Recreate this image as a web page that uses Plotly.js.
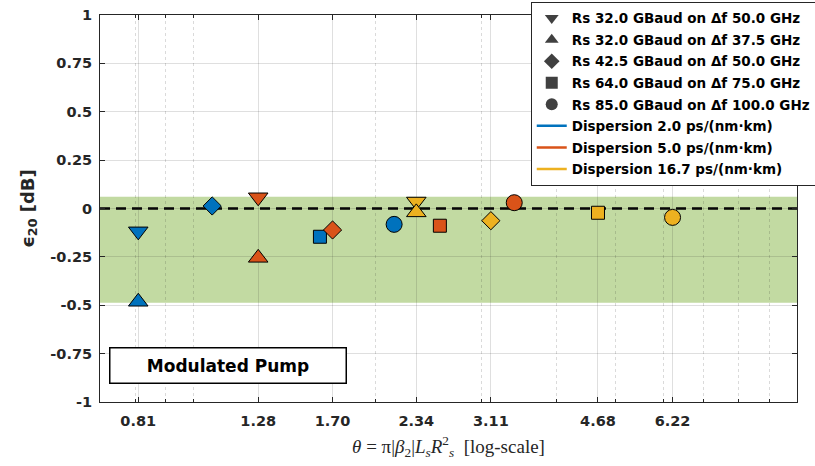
<!DOCTYPE html>
<html>
<head>
<meta charset="utf-8">
<script src="https://cdn.plot.ly/plotly-3.0.1.min.js"></script>
<style>html,body{margin:0;padding:0;background:#fff;}#chart{width:815px;height:466px;}</style>
</head>
<body>
<div id="chart"></div>
<script>
// Marker order in each series: triangle-down, triangle-up, diamond, square, circle
const symbols = ['triangle-down', 'triangle-up', 'diamond', 'square', 'circle'];
const markerSizes = [17, 17, 14, 13, 16];
const symbolLabels = [
  'Rs 32.0 GBaud on Δf 50.0 GHz',
  'Rs 32.0 GBaud on Δf 37.5 GHz',
  'Rs 42.5 GBaud on Δf 50.0 GHz',
  'Rs 64.0 GBaud on Δf 75.0 GHz',
  'Rs 85.0 GBaud on Δf 100.0 GHz'
];
const dispersionLabels = ['Dispersion 2.0 ps/(nm·km)', 'Dispersion 5.0 ps/(nm·km)', 'Dispersion 16.7 ps/(nm·km)'];
const dispersionColors = ['#0072BD', '#D95319', '#EDB120'];

const disp2_theta = [0.81, 0.81, 1.074, 1.62, 2.15];
const disp2_eps   = [-0.118, -0.482, 0.013, -0.146, -0.082];
const disp5_theta = [1.28, 1.28, 1.70, 2.56, 3.40];
const disp5_eps   = [0.058, -0.255, -0.111, -0.089, 0.030];
const disp16_theta = [2.34, 2.34, 3.11, 4.68, 6.22];
const disp16_eps   = [0.036, -0.020, -0.063, -0.022, -0.046];

const xTickVals = [0.81, 1.28, 1.70, 2.34, 3.11, 4.68, 6.22];
const xTickText = ['0.81', '1.28', '1.70', '2.34', '3.11', '4.68', '6.22'];
const yTickVals = [-1, -0.75, -0.5, -0.25, 0, 0.25, 0.5, 0.75, 1];
const yTickText = ['-1', '-0.75', '-0.5', '-0.25', '0', '0.25', '0.5', '0.75', '1'];

const bandLow = -0.487, bandHigh = 0.061;
const xRange = [0.7, 10];

const FONT = '"DejaVu Sans", "Open Sans", sans-serif';
const axisColor = '#262626';
const bold = s => '<b>' + s + '</b>';

const series = [
  {x: disp2_theta, y: disp2_eps},
  {x: disp5_theta, y: disp5_eps},
  {x: disp16_theta, y: disp16_eps}
];

const traces = [];
// legend-only marker entries
symbolLabels.forEach((lab, i) => {
  traces.push({
    x: [null], y: [null], type: 'scatter', mode: 'markers', name: bold(lab),
    legendgroup: 'g' + i,
    marker: {symbol: symbols[i], size: 12, color: '#404040', opacity: 1},
    showlegend: true
  });
});
// legend-only line entries
dispersionLabels.forEach((lab, i) => {
  traces.push({
    x: [null], y: [null], type: 'scatter', mode: 'lines', name: bold(lab),
    legendgroup: 'd' + i,
    line: {color: dispersionColors[i], width: 2.5},
    showlegend: true
  });
});
// data markers
series.forEach((s, i) => {
  traces.push({
    x: s.x, y: s.y, type: 'scatter', mode: 'markers', showlegend: false,
    marker: {symbol: symbols, size: markerSizes, color: dispersionColors[i], opacity: 1,
             line: {color: '#000', width: 1}},
    hoverinfo: 'x+y'
  });
});

const layout = {
  width: 815, height: 466,
  margin: {l: 100, r: 18, t: 15, b: 64, autoexpand: false},
  paper_bgcolor: '#fff', plot_bgcolor: 'rgba(0,0,0,0)',
  font: {family: FONT, color: axisColor},
  showlegend: true,
  legend: {
    x: 0.618, y: 1.034, xanchor: 'left', yanchor: 'top',
    bgcolor: '#fff', bordercolor: axisColor, borderwidth: 1,
    font: {family: FONT, size: 13.5, color: '#000'},
    traceorder: 'grouped', tracegroupgap: 1, itemwidth: 30
  },
  xaxis: {
    type: 'log', range: [Math.log10(xRange[0]), Math.log10(xRange[1])],
    tickmode: 'array', tickvals: xTickVals, ticktext: xTickText.map(bold),
    ticks: 'inside', ticklen: 5, tickcolor: axisColor,
    showline: true, linecolor: axisColor, linewidth: 1, mirror: 'ticks',
    showgrid: true, gridcolor: 'rgba(38,38,38,0.15)', gridwidth: 1,
    zeroline: false,
    tickfont: {family: FONT, size: 14.5, color: axisColor},
    ticklabelstandoff: 6,
    minor: {dtick: 'D1', ticks: 'inside', ticklen: 3, tickcolor: axisColor,
            showgrid: true, griddash: 'dot', gridcolor: 'rgba(38,38,38,0.17)', gridwidth: 1},
    title: {text: '<i>θ</i> = π|<i>β</i><sub>2</sub>|<i>L</i><sub><i>s</i></sub><i>R</i><sup>2</sup><sub><i>s</i></sub>  [log-scale]',
            font: {family: '"Liberation Serif", "DejaVu Serif", serif', size: 19, color: axisColor},
            standoff: 11}
  },
  yaxis: {
    range: [-1, 1],
    tickmode: 'array', tickvals: yTickVals, ticktext: yTickText.map(bold),
    ticks: 'inside', ticklen: 5, tickcolor: axisColor,
    showline: true, linecolor: axisColor, linewidth: 1, mirror: 'ticks',
    showgrid: true, gridcolor: 'rgba(38,38,38,0.15)', gridwidth: 1,
    zeroline: false,
    tickfont: {family: FONT, size: 14.5, color: axisColor},
    ticklabelstandoff: 4,
    title: {text: '<b>ϵ<sub>20</sub> [dB]</b>', font: {family: FONT, size: 18, color: axisColor}, standoff: 11}
  },
  shapes: [
    {type: 'rect', xref: 'paper', yref: 'y', x0: 0, x1: 1, y0: bandLow, y1: bandHigh,
     fillcolor: 'rgba(119,172,48,0.45)', line: {width: 0}, layer: 'below'},
    {type: 'line', xref: 'paper', yref: 'y', x0: 0, x1: 1, y0: 0, y1: 0,
     line: {color: '#000', width: 2.5, dash: '10px,6px'}, layer: 'between'}
  ],
  annotations: [
    {xref: 'paper', yref: 'paper', x: 0.184, y: 0.0956, xanchor: 'center', yanchor: 'middle',
     text: '<b>Modulated Pump</b>', showarrow: false,
     font: {family: FONT, size: 17, color: '#000'},
     bgcolor: '#fff', bordercolor: '#000', borderwidth: 1.5, borderpad: 2,
     width: 231, height: 30}
  ]
};

Plotly.newPlot('chart', traces, layout, {displayModeBar: false, staticPlot: true});
</script>
</body>
</html>
